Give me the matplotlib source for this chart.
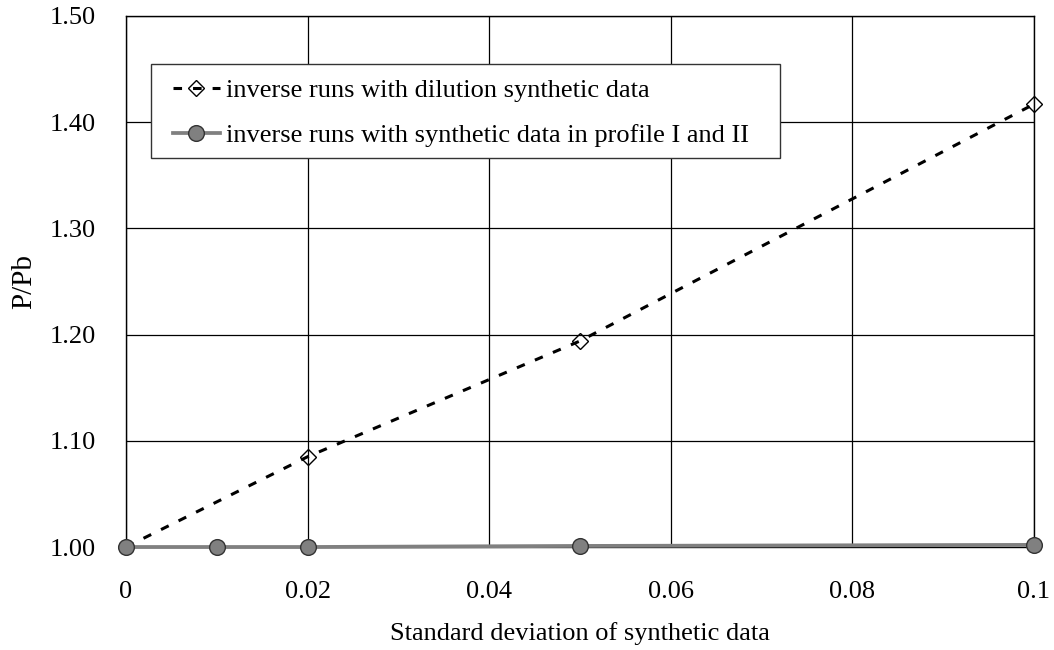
import matplotlib
matplotlib.use("Agg")
import matplotlib.pyplot as plt
from matplotlib.patches import Rectangle

plt.rcParams['font.family'] = ['Liberation Serif', 'DejaVu Serif']

# Data
x_dilution = [0.0, 0.02, 0.05, 0.1]
y_dilution = [1.0, 1.085, 1.194, 1.417]
x_profile = [0.0, 0.01, 0.02, 0.05, 0.1]
y_profile = [1.0, 1.0, 1.0, 1.001, 1.002]
label_dilution = "inverse runs with dilution synthetic data"
label_profile = "inverse runs with synthetic data in profile I and II"
xticks = [0, 0.02, 0.04, 0.06, 0.08, 0.1]
xticklabels = ["0", "0.02", "0.04", "0.06", "0.08", "0.1"]
yticks = [1.0, 1.1, 1.2, 1.3, 1.4, 1.5]
yticklabels = ["1.00", "1.10", "1.20", "1.30", "1.40", "1.50"]

W, H = 1054, 650
FS = 19
fig = plt.figure(figsize=(W / 100, H / 100), dpi=100)
ax = fig.add_axes([126 / W, 1 - 547 / H, (1034 - 126) / W, (547 - 16) / H])

ax.plot(x_dilution, y_dilution, color='black', linestyle=(0, (2.8, 3.6)), linewidth=2.2,
        marker='D', markersize=8.5, markerfacecolor='none', markeredgecolor='black',
        markeredgewidth=1.0, label=label_dilution, clip_on=False, zorder=4)
ax.plot(x_profile, y_profile, color='#808080', linewidth=2.7,
        marker='o', markersize=11.3, markerfacecolor='#808080', markeredgecolor='#333333',
        markeredgewidth=1.0, label=label_profile, clip_on=False, zorder=4.2)

ax.set_xlim(0, 0.1)
ax.set_ylim(1.0, 1.5)
ax.set_xticks(xticks)
ax.set_xticklabels(xticklabels)
ax.set_yticks(yticks)
ax.set_yticklabels(yticklabels)
ax.tick_params(axis='x', length=0, labelsize=FS, pad=24.5)
ax.tick_params(axis='y', length=0, labelsize=FS, pad=22)
ax.grid(True, color='black', linewidth=0.9)
ax.set_axisbelow(True)
for s in ax.spines.values():
    s.set_linewidth(1.0)
    s.set_color('black')

ax.set_xlabel("Standard deviation of synthetic data", fontsize=FS, labelpad=14)
ax.set_ylabel("P/Pb", fontsize=21, labelpad=9)

# legend frame (pixel box 151..780 x 64..158)
frame = Rectangle((151 / W, 1 - 158 / H), (780 - 151) / W, (158 - 64) / H,
                  transform=fig.transFigure, facecolor='white', edgecolor='#333333',
                  linewidth=1.0, zorder=4.5, clip_on=False)
ax.add_patch(frame)

leg = ax.legend(loc='upper left', bbox_to_anchor=(173 / W, 1 - 79 / H),
                bbox_transform=fig.transFigure,
                fontsize=FS, frameon=False, borderaxespad=0, borderpad=0,
                handlelength=1.78, handletextpad=0.23, labelspacing=0.8)
leg.set_zorder(5)

fig.savefig("out.png", dpi=100)
